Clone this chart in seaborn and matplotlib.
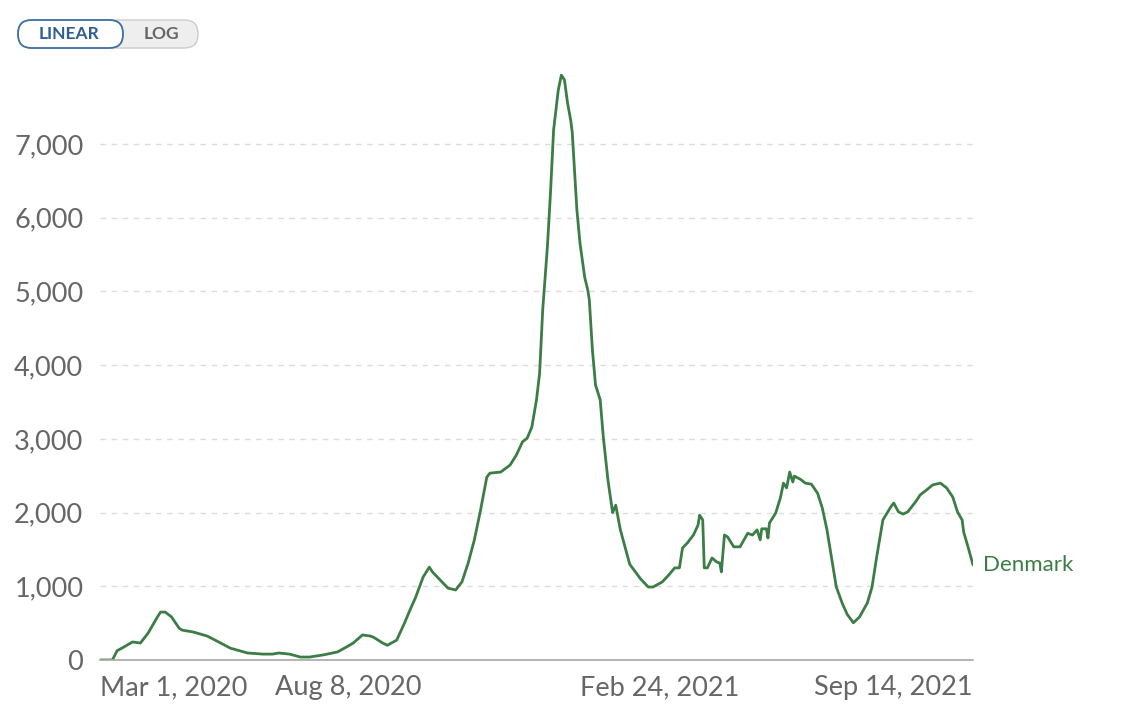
import numpy as np
import pandas as pd
import matplotlib
matplotlib.use("Agg")
import matplotlib.pyplot as plt
import seaborn as sns
from matplotlib.patches import FancyBboxPatch
from matplotlib.ticker import FuncFormatter

# =========================
# DATA
# =========================
START = "2020-03-01"
END = "2021-09-14"

# days since Mar 1, 2020
days = [0, 8, 11, 14, 21, 26, 31, 37, 39, 42, 46, 51, 53, 60, 69, 75, 84, 95,
        105, 111, 115, 122, 129, 135, 144, 153, 159, 163, 169, 174, 176, 182,
        185, 191, 196, 200, 203, 208, 212, 214, 219, 224, 229, 233, 237, 241,
        245, 249, 251, 258, 264, 268, 272, 275, 278, 281, 283, 285, 288, 290,
        292, 295, 297, 299, 301, 303, 304, 307, 309, 312, 314, 315, 317, 319,
        322, 324, 327, 330, 332, 335, 341, 348, 353, 356, 362, 366, 370, 373,
        375, 378, 382, 385, 386, 388, 389, 391, 394, 397, 399, 400, 402, 404,
        408, 412, 417, 420, 423, 425, 426, 429, 430, 431, 435, 438, 440, 442,
        444, 446, 447, 451, 454, 458, 462, 465, 468, 471, 474, 478, 481, 485,
        489, 494, 497, 500, 504, 509, 511, 514, 517, 520, 525, 528, 532, 536,
        541, 545, 549, 552, 555, 556, 559, 562]

values = [0, 0, 126, 160, 245, 230, 366, 585, 650, 650, 585, 430, 405, 380,
          325, 260, 160, 95, 80, 80, 95, 80, 40, 40, 70, 110, 180, 230, 340,
          325, 310, 230, 200, 270, 500, 700, 840, 1125, 1260, 1195, 1085, 975,
          950, 1060, 1315, 1630, 2035, 2480, 2535, 2550, 2645, 2780, 2960,
          3010, 3160, 3530, 3890, 4750, 5600, 6335, 7190, 7730, 7935, 7870,
          7555, 7325, 7160, 6105, 5655, 5195, 5020, 4885, 4205, 3730, 3530,
          3025, 2440, 2000, 2100, 1765, 1300, 1100, 990, 990, 1060, 1150, 1250,
          1250, 1520, 1585, 1695, 1830, 1965, 1900, 1250, 1250, 1385, 1330,
          1315, 1195, 1695, 1670, 1535, 1535, 1720, 1695, 1765, 1630, 1780,
          1780, 1655, 1860, 1995, 2200, 2400, 2335, 2550, 2415, 2495, 2450,
          2400, 2385, 2260, 2060, 1765, 1380, 990, 760, 620, 505, 585, 775,
          990, 1400, 1900, 2075, 2130, 2010, 1980, 2010, 2145, 2240, 2305,
          2375, 2400, 2335, 2210, 2010, 1900, 1735, 1520, 1290]

country = "Denmark"

yticks = [0, 1000, 2000, 3000, 4000, 5000, 6000, 7000]
xtick_dates = ["2020-03-01", "2020-08-08", "2021-02-24", "2021-09-14"]
xtick_labels = ["Mar 1, 2020", "Aug 8, 2020", "Feb 24, 2021", "Sep 14, 2021"]

df = pd.DataFrame({
    "date": pd.Timestamp(START) + pd.to_timedelta(days, unit="D"),
    "value": values,
})

# =========================
# STYLE
# =========================
sns.set_style("white")
plt.rcParams["font.family"] = ["Lato", "DejaVu Sans"]

LINE_COLOR = "#3c7d46"
TEXT_GRAY = "#666666"
AXIS_GRAY = "#a8a8a8"

fig = plt.figure(figsize=(11.33, 7.08), dpi=100)
ax = fig.add_axes([100 / 1133, 1 - 660 / 708, 873 / 1133, (660 - 74) / 708])

sns.lineplot(data=df, x="date", y="value", ax=ax, color=LINE_COLOR,
             linewidth=2.0, legend=False)

ax.set_xlim(pd.Timestamp(START), pd.Timestamp(END))
ax.set_ylim(0, 7950)
ax.set_xlabel("")
ax.set_ylabel("")

# y axis
ax.set_yticks(yticks)
ax.yaxis.set_major_formatter(FuncFormatter(lambda v, p: f"{int(v):,}"))
ax.tick_params(axis="y", length=0, pad=12, labelsize=19.5, labelcolor=TEXT_GRAY)
ax.yaxis.grid(True, linestyle=(0, (4, 4)), color="#dcdcdc", linewidth=1)
ax.xaxis.grid(False)

# x axis
ax.set_xticks(pd.to_datetime(xtick_dates))
ax.set_xticklabels(xtick_labels)
ax.tick_params(axis="x", length=7, width=1, color=AXIS_GRAY, pad=4,
               labelsize=19.5, labelcolor=TEXT_GRAY)
labels = ax.get_xticklabels()
labels[0].set_ha("left")
labels[-1].set_ha("right")

for side in ["top", "right", "left"]:
    ax.spines[side].set_visible(False)
ax.spines["bottom"].set_color(AXIS_GRAY)
ax.spines["bottom"].set_linewidth(1.2)

# end label
ax.annotate(country, xy=(df["date"].iloc[-1], df["value"].iloc[-1]),
            xytext=(7, 0), textcoords="offset points", va="center",
            ha="left", color=LINE_COLOR, fontsize=16, annotation_clip=False)

# =========================
# LINEAR / LOG toggle
# =========================
def px(x, y):
    return x / 1133, 1 - y / 708

bx, by = px(18, 48)
log_box = FancyBboxPatch((bx, by), (198 - 18) / 1133, 28 / 708,
                         boxstyle="round,pad=0,rounding_size=0.012",
                         transform=fig.transFigure, facecolor="#eeeeee",
                         edgecolor="#cccccc", linewidth=1, mutation_aspect=1.6)
fig.patches.append(log_box)
lin_box = FancyBboxPatch((bx, by), (123 - 18) / 1133, 28 / 708,
                         boxstyle="round,pad=0,rounding_size=0.012",
                         transform=fig.transFigure, facecolor="white",
                         edgecolor="#3d6fa5", linewidth=1.3, mutation_aspect=1.6)
fig.patches.append(lin_box)
fig.text(*px(69, 34), "LINEAR", ha="center", va="center", fontsize=12.5,
         fontweight="bold", color="#2f5f8f")
fig.text(*px(161, 34), "LOG", ha="center", va="center", fontsize=12.5,
         fontweight="bold", color="#666666")

plt.savefig("out.png", dpi=100)
plt.close()
